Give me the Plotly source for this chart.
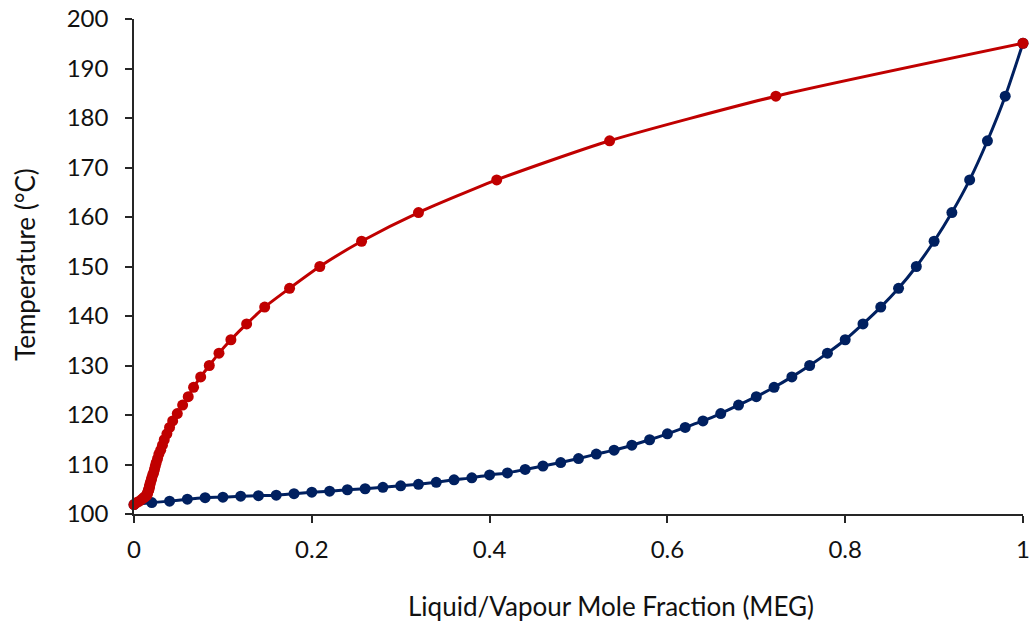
import plotly.graph_objects as go

# Liquid mole fraction of MEG (bubble curve)
x_liquid = [0.00, 0.02, 0.04, 0.06, 0.08, 0.10, 0.12, 0.14, 0.16, 0.18,
            0.20, 0.22, 0.24, 0.26, 0.28, 0.30, 0.32, 0.34, 0.36, 0.38,
            0.40, 0.42, 0.44, 0.46, 0.48, 0.50, 0.52, 0.54, 0.56, 0.58,
            0.60, 0.62, 0.64, 0.66, 0.68, 0.70, 0.72, 0.74, 0.76, 0.78,
            0.80, 0.82, 0.84, 0.86, 0.88, 0.90, 0.92, 0.94, 0.96, 0.98, 1.00]

# Temperature (°C)
temperature = [101.9, 102.3, 102.6, 103.0, 103.3, 103.4, 103.6, 103.7, 103.8, 104.1,
               104.4, 104.6, 104.9, 105.1, 105.4, 105.7, 106.0, 106.4, 106.9, 107.3,
               107.9, 108.3, 109.0, 109.7, 110.4, 111.2, 112.1, 112.9, 113.9, 115.0,
               116.2, 117.5, 118.8, 120.3, 122.0, 123.7, 125.6, 127.7, 130.0, 132.5,
               135.2, 138.4, 141.8, 145.6, 150.0, 155.1, 160.9, 167.5, 175.4, 184.4, 195.1]

# Vapour mole fraction of MEG (dew curve)
y_vapour = [0.000, 0.003, 0.006, 0.009, 0.011, 0.012, 0.013, 0.014, 0.0145, 0.015,
            0.0155, 0.016, 0.0165, 0.017, 0.0172, 0.0176, 0.018, 0.0185, 0.0195, 0.020,
            0.021, 0.022, 0.023, 0.024, 0.025, 0.0265, 0.028, 0.030, 0.032, 0.034,
            0.037, 0.040, 0.0435, 0.0487, 0.0547, 0.061, 0.067, 0.075, 0.0847, 0.0956,
            0.109, 0.1267, 0.147, 0.175, 0.209, 0.256, 0.320, 0.408, 0.535, 0.722, 1.000]

x_ticks = [0, 0.2, 0.4, 0.6, 0.8, 1]
x_tick_labels = ["0", "0.2", "0.4", "0.6", "0.8", "1"]

BLUE = "#002060"
RED = "#C00000"
FONT = "Lato, 'Open Sans', sans-serif"

fig = go.Figure()
fig.add_trace(go.Scatter(
    x=x_liquid, y=temperature, mode="lines+markers",
    line=dict(color=BLUE, width=3, shape="spline", smoothing=0.6),
    marker=dict(color=BLUE, size=11),
    cliponaxis=False, showlegend=False))
fig.add_trace(go.Scatter(
    x=y_vapour, y=temperature, mode="lines+markers",
    line=dict(color=RED, width=3, shape="spline", smoothing=0.6),
    marker=dict(color=RED, size=11),
    cliponaxis=False, showlegend=False))

fig.update_layout(
    width=1036, height=621,
    margin=dict(l=134, r=13, t=19, b=107),
    paper_bgcolor="white", plot_bgcolor="white",
    font=dict(family=FONT, size=24, color="#111111"),
    xaxis=dict(range=[0, 1], tickvals=x_ticks, ticktext=x_tick_labels,
               automargin=False,
               showgrid=False, zeroline=False, showline=True,
               linecolor="#262626", linewidth=1.5, ticks="outside",
               ticklen=7, tickcolor="#262626", tickwidth=1.5,
               ticklabelstandoff=6,
               tickfont=dict(size=24)),
    yaxis=dict(range=[100, 200], dtick=10, tick0=100,
               automargin=False,
               showgrid=False, zeroline=False, showline=True,
               linecolor="#262626", linewidth=1.5, ticks="outside",
               ticklen=7, tickcolor="#262626", tickwidth=1.5,
               ticklabelstandoff=12,
               tickfont=dict(size=24)),
    annotations=[
        dict(text="Liquid/Vapour Mole Fraction (MEG)", xref="paper", yref="paper",
             x=0.536, y=0, xanchor="center", yanchor="middle", yshift=-92,
             showarrow=False, font=dict(size=26)),
        dict(text="Temperature (°C)", xref="paper", yref="paper",
             x=0, y=0.503, xanchor="center", yanchor="middle", xshift=-109,
             textangle=-90, showarrow=False, font=dict(size=26)),
    ],
)

fig.write_html("out.html")
